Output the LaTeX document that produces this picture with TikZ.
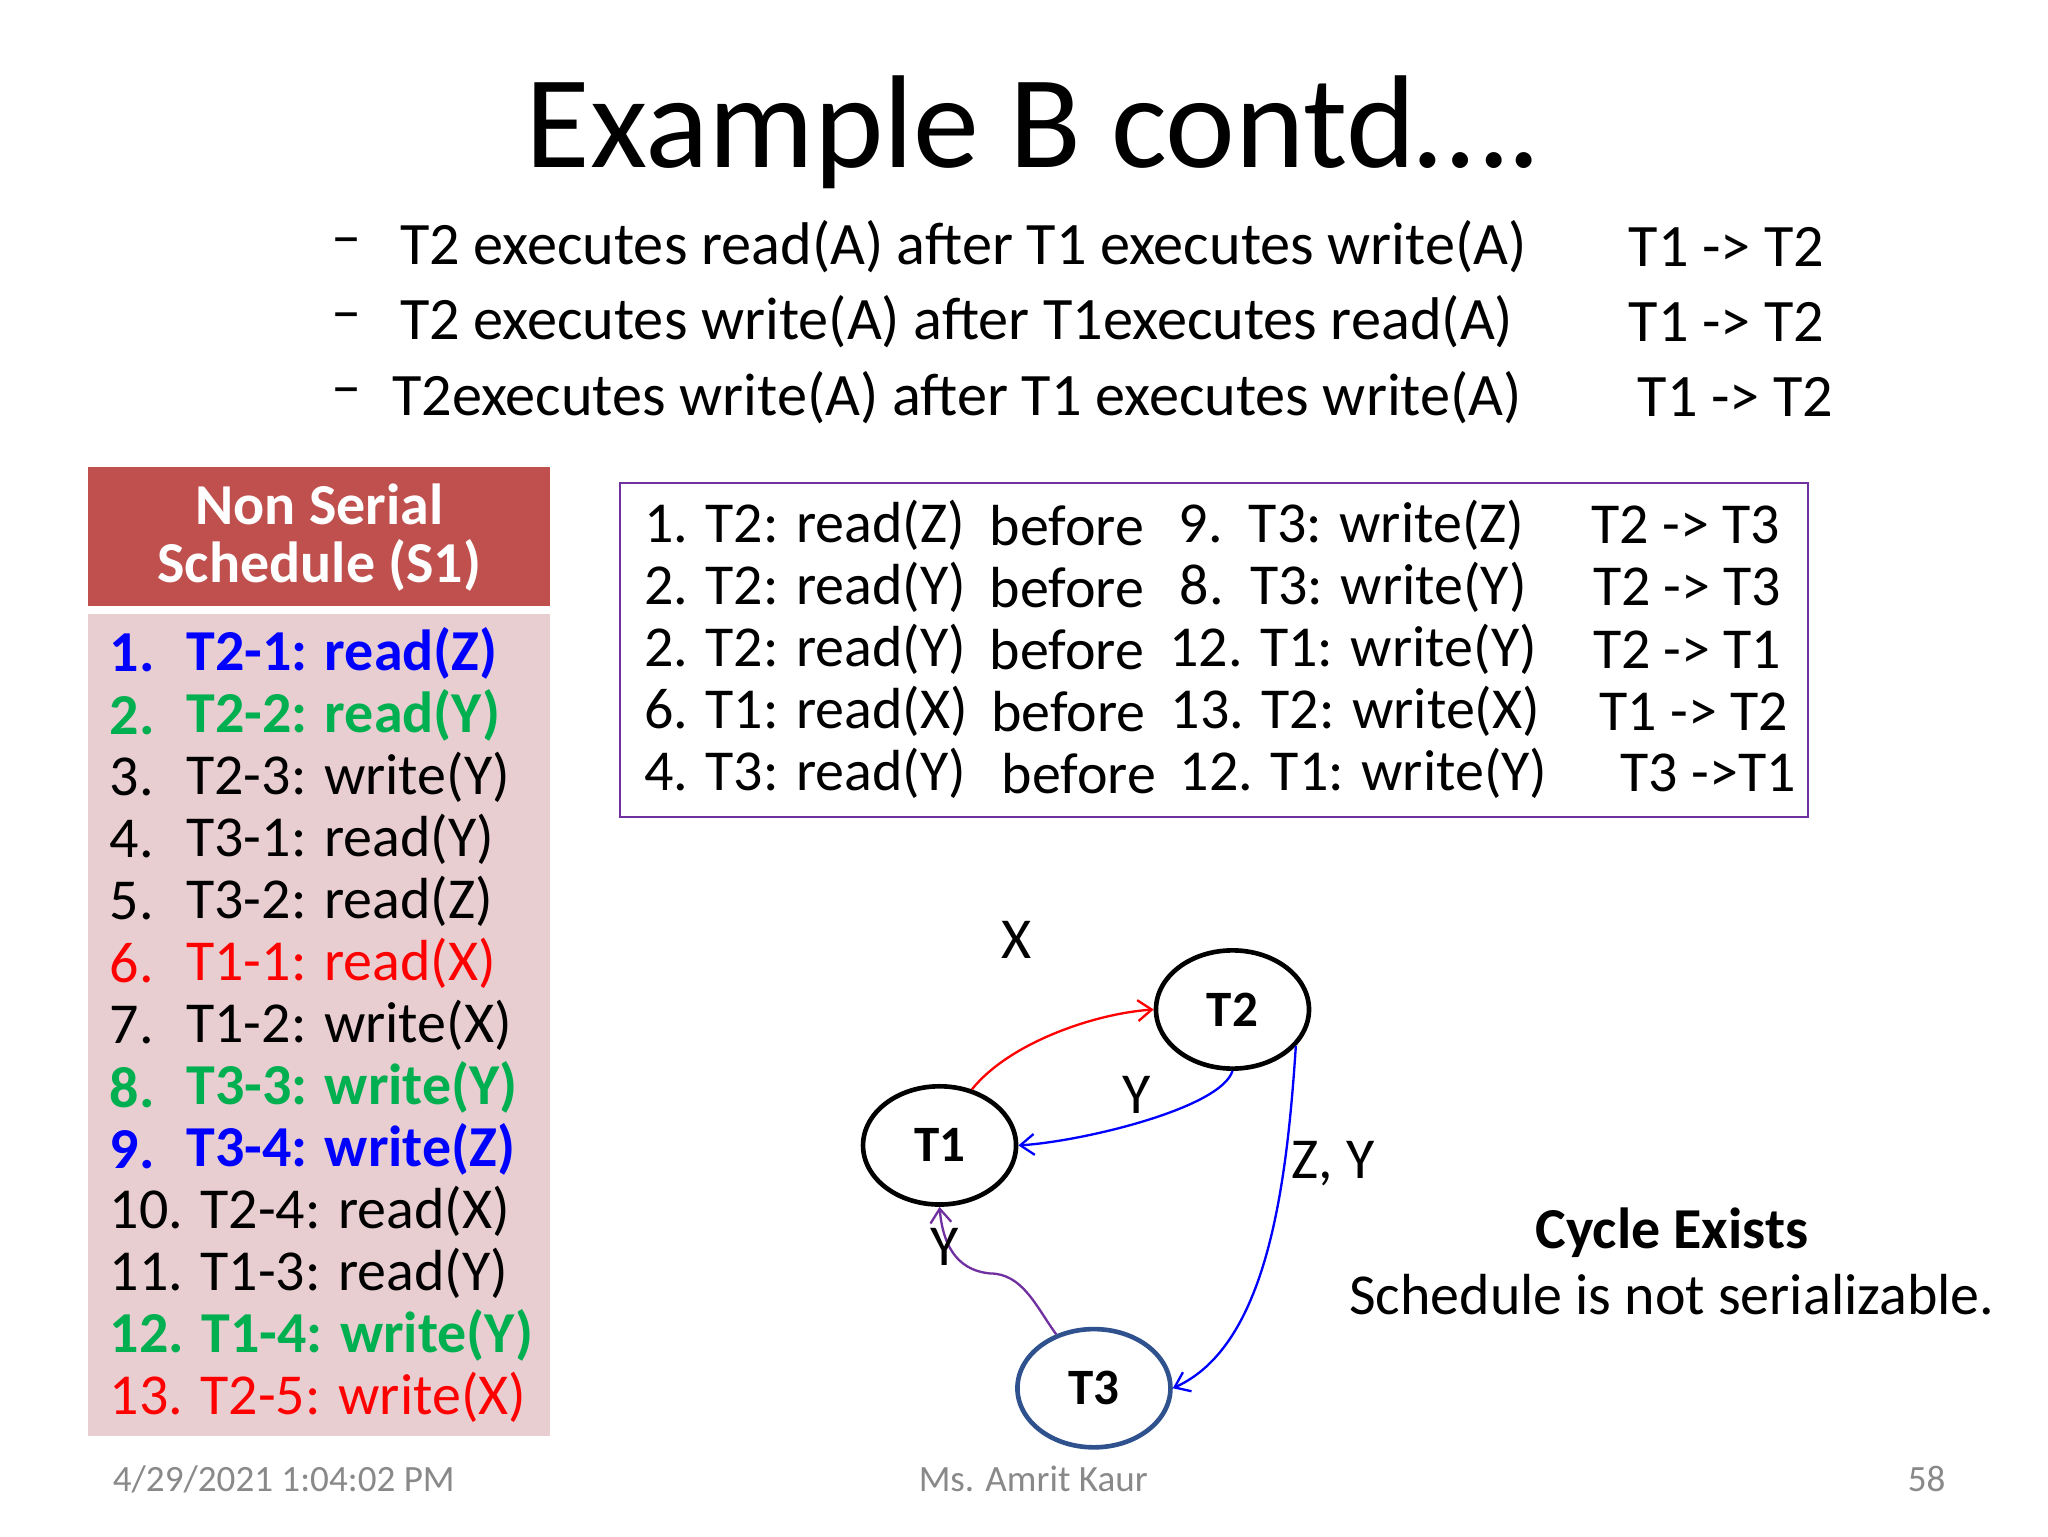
\documentclass[tikz,border=0pt]{standalone}
\usepackage{fontspec}
\setmainfont{Carlito}
\usetikzlibrary{arrows.meta}
\definecolor{hdr}{RGB}{192,80,77}
\definecolor{pinkbg}{RGB}{232,206,209}
\definecolor{gr}{RGB}{0,176,80}
\definecolor{bl}{RGB}{0,0,255}
\definecolor{pur}{RGB}{112,48,160}
\definecolor{t3c}{RGB}{47,82,143}
\definecolor{foot}{RGB}{137,137,137}
\tikzset{
 bul/.style={anchor=west,font=\fontsize{26}{28}\selectfont},
 li/.style={anchor=west,font=\fontsize{25}{27}\selectfont},
 tb/.style={anchor=west,font=\fontsize{25}{27}\selectfont},
 tx/.style={ellipse,draw,line width=2pt,minimum width=66pt,minimum height=51pt,font=\fontsize{22}{24}\selectfont\bfseries},
 lab/.style={font=\fontsize{25}{27}\selectfont},
 ft/.style={font=\fontsize{16}{18}\selectfont,text=foot},
 arr/.style={-{Straight Barb[length=6pt,width=9pt]},line width=1pt}
}
\usetikzlibrary{shapes.geometric}
\begin{document}
\begin{tikzpicture}[x=0.02cm,y=-0.02cm]
\useasboundingbox (0,0) rectangle (1552,1164);
\node (title) at (783,100) {\fontsize{57}{60}\selectfont Example B contd\dots.};
\foreach \y/\t/\r/\xo in {187/T2 executes read(A) after T1 executes write(A)/T1 -> T2/297,244/T2 executes write(A) after T1executes read(A)/T1 -> T2/297,301/T2executes write(A) after T1 executes write(A)/T1 -> T2/291}{
 \node[bul] at (245,\y) {--};
 \node[bul] at (\xo,\y) {\t};
}
\node[bul] (r1) at (1228,187) {T1 -> T2};
\node[bul] (r2) at (1228,244) {T1 -> T2};
\node[bul] (r3) at (1235,301) {T1 -> T2};
% schedule
\fill[hdr] (67,354) rectangle (417,459);
\fill[pinkbg] (67,465) rectangle (417,1088);
\node[text=white,font=\fontsize{25}{27}\selectfont\bfseries,align=center] (hd) at (242,407) {Non Serial\\[-2pt]Schedule (S1)};
\newcommand{\itm}[4]{\node[li,text=#3] at (77,#1) {#4#2.}; \node[li,text=#3] at (135,#1) {#4#2};}
\node[li,text=bl,font=\fontsize{25}{27}\selectfont\bfseries] at (77,495) {1.};
\node[li,text=bl,font=\fontsize{25}{27}\selectfont\bfseries] at (135,495) {T2-1: read(Z)};
\node[li,text=gr,font=\fontsize{25}{27}\selectfont\bfseries] at (77,542) {2.};
\node[li,text=gr,font=\fontsize{25}{27}\selectfont\bfseries] at (135,542) {T2-2: read(Y)};
\node[li] at (77,589) {3.}; \node[li] at (135,589) {T2-3: write(Y)};
\node[li] at (77,636) {4.}; \node[li] at (135,636) {T3-1: read(Y)};
\node[li] at (77,683) {5.}; \node[li] at (135,683) {T3-2: read(Z)};
\node[li,text=red] at (77,730) {6.}; \node[li,text=red] at (135,730) {T1-1: read(X)};
\node[li] at (77,777) {7.}; \node[li] at (135,777) {T1-2: write(X)};
\node[li,text=gr,font=\fontsize{25}{27}\selectfont\bfseries] at (77,824) {8.};
\node[li,text=gr,font=\fontsize{25}{27}\selectfont\bfseries] at (135,824) {T3-3: write(Y)};
\node[li,text=bl,font=\fontsize{25}{27}\selectfont\bfseries] at (77,871) {9.};
\node[li,text=bl,font=\fontsize{25}{27}\selectfont\bfseries] at (135,871) {T3-4: write(Z)};
\node[li] at (77,918) {10. T2-4: read(X)};
\node[li] at (77,965) {11. T1-3: read(Y)};
\node[li,text=gr,font=\fontsize{25}{27}\selectfont\bfseries] at (77,1012) {12. T1-4: write(Y)};
\node[li,text=red] at (77,1059) {13. T2-5: write(X)};
% table
\draw[pur,line width=1pt] (470,366) rectangle (1370,619);
\foreach \y/\a/\bx/\c/\cx/\d/\dx in {
398/1. T2: read(Z)/744/9.\ \ T3: write(Z)/887/T2 -> T3/1200,
445/2. T2: read(Y)/744/8.\ \ T3: write(Y)/888/T2 -> T3/1201,
492/2. T2: read(Y)/744/12. T1: write(Y)/880/T2 -> T1/1201,
539/6. T1: read(X)/745/13. T2: write(X)/881/T1 -> T2/1206,
586/4. T3: read(Y)/753/12. T1: write(Y)/888/T3 ->T1/1222}{
 \node[tb] at (482,\y) {\a};
 \node[tb] at (\bx,\y) {before};
 \node[tb] at (\cx,\y) {\c};
 \node[tb] at (\dx,\y) {\d};
}
% graph
\node[tx] (T1) at (712,868) {T1};
\node[tx] (T2) at (934,765) {T2};
\node[tx,draw=t3c] (T3) at (829,1052) {T3};
\draw[arr,red] (T1.60) .. controls (765,790) and (830,768) .. (T2.west);
\draw[arr,bl] (T2.south) .. controls (925,840) and (820,865) .. (T1.east);
\draw[arr,bl] (T2.-30) .. controls (975,900) and (960,1020) .. (T3.east);
\draw[arr,pur] (T3.125) .. controls (785,990) and (775,965) .. (750,965) .. controls (730,963) and (715,950) .. (T1.south);
\node[lab] (lx) at (770,712) {X};
\node[lab] (ly) at (861,830) {Y};
\node[lab] (lzy) at (1010,882) {Z, Y};
\node[lab] (ly2) at (716,945) {Y};
\node[font=\fontsize{25}{27}\selectfont\bfseries] (ce) at (1267,934) {Cycle Exists};
\node[lab] (ns) at (1267,981) {Schedule is not serializable.};
\node[ft] (f1) at (215,1121) {4/29/2021 1:04:02 PM};
\node[ft] (f2) at (783,1121) {Ms. Amrit Kaur};
\node[ft] (f3) at (1460,1121) {58};
\end{tikzpicture}
\end{document}
